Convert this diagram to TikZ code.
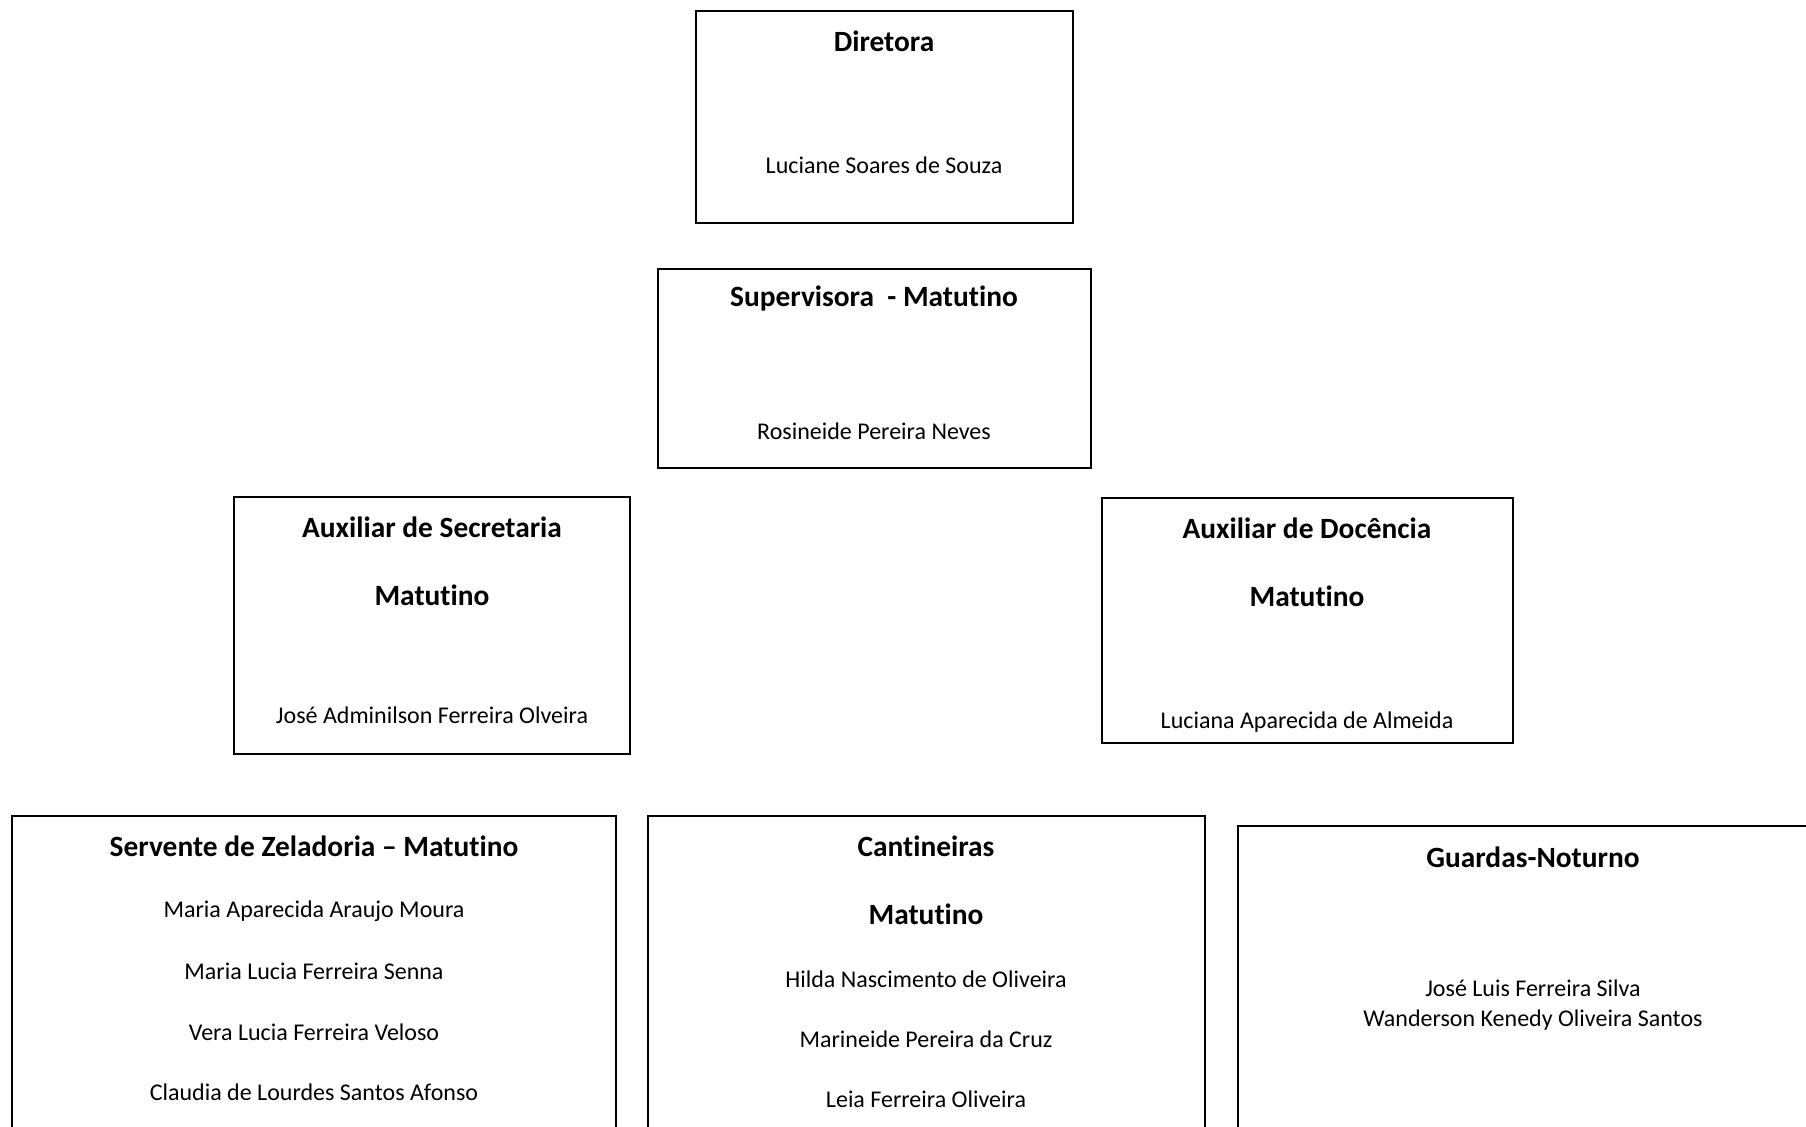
\documentclass[tikz,border=0pt]{standalone}
\usepackage{fontspec}
\setmainfont[Ligatures=NoCommon]{Carlito}
\tikzset{
  caixa/.style={line width=0.6pt},
  cargo/.style={font=\bfseries\fontsize{14.7}{17}\selectfont},
  nome/.style={font=\fontsize{12}{15}\selectfont, align=center},
}
\begin{document}
\begin{tikzpicture}[x=0.5pt,y=-0.5pt]
\useasboundingbox (0,0) rectangle (1806,1127);
\clip (0,0) rectangle (1806,1127);
% direcao
\draw[caixa] (696,11) rectangle (1073,223);
\node[cargo] (diretora) at (884,41) {Diretora};
\node[nome] (luciane) at (884,165) {Luciane Soares de Souza};
\draw[caixa] (658,269) rectangle (1091,468);
\node[cargo] (supervisora) at (874,299) {Supervisora\ \ - Matutino};
\node[nome] (rosineide) at (874,431) {Rosineide Pereira Neves};
% auxiliares
\draw[caixa] (234,497) rectangle (630,754);
\node[cargo] (secretaria) at (432,527) {Auxiliar de Secretaria};
\node[cargo] (secretariaturno) at (432,595) {Matutino};
\node[nome] (jose) at (432,715) {José Adminilson Ferreira Olveira};
\draw[caixa] (1102,498) rectangle (1513,743);
\node[cargo] (docencia) at (1307,528) {Auxiliar de Docência};
\node[cargo] (docenciaturno) at (1307,596) {Matutino};
\node[nome] (luciana) at (1307,722) {Luciana Aparecida de Almeida};
% servicos
\draw[caixa] (12,816) rectangle (616,1200);
\node[cargo] (servente) at (314,846) {Servente de Zeladoria -- Matutino};
\node[nome] (maria) at (314,911) {Maria Aparecida Araujo Moura};
\node[nome] (marialucia) at (314,971) {Maria Lucia Ferreira Senna};
\node[nome] (vera) at (314,1032) {Vera Lucia Ferreira Veloso};
\node[nome] (claudia) at (314,1092) {Claudia de Lourdes Santos Afonso};
\draw[caixa] (648,816) rectangle (1205,1200);
\node[cargo] (cantineiras) at (926,846) {Cantineiras};
\node[cargo] (cantinturno) at (926,914) {Matutino};
\node[nome] (hilda) at (926,979) {Hilda Nascimento de Oliveira};
\node[nome] (marineide) at (926,1039) {Marineide Pereira da Cruz};
\node[nome] (leia) at (926,1099) {Leia Ferreira Oliveira};
\draw[caixa] (1238,826) rectangle (1828,1200);
\node[cargo] (guardas) at (1533,857) {Guardas-Noturno};
\node[nome] (guardanomes) at (1533,1005) {José Luis Ferreira Silva\\Wanderson Kenedy Oliveira Santos};
\end{tikzpicture}
\end{document}
